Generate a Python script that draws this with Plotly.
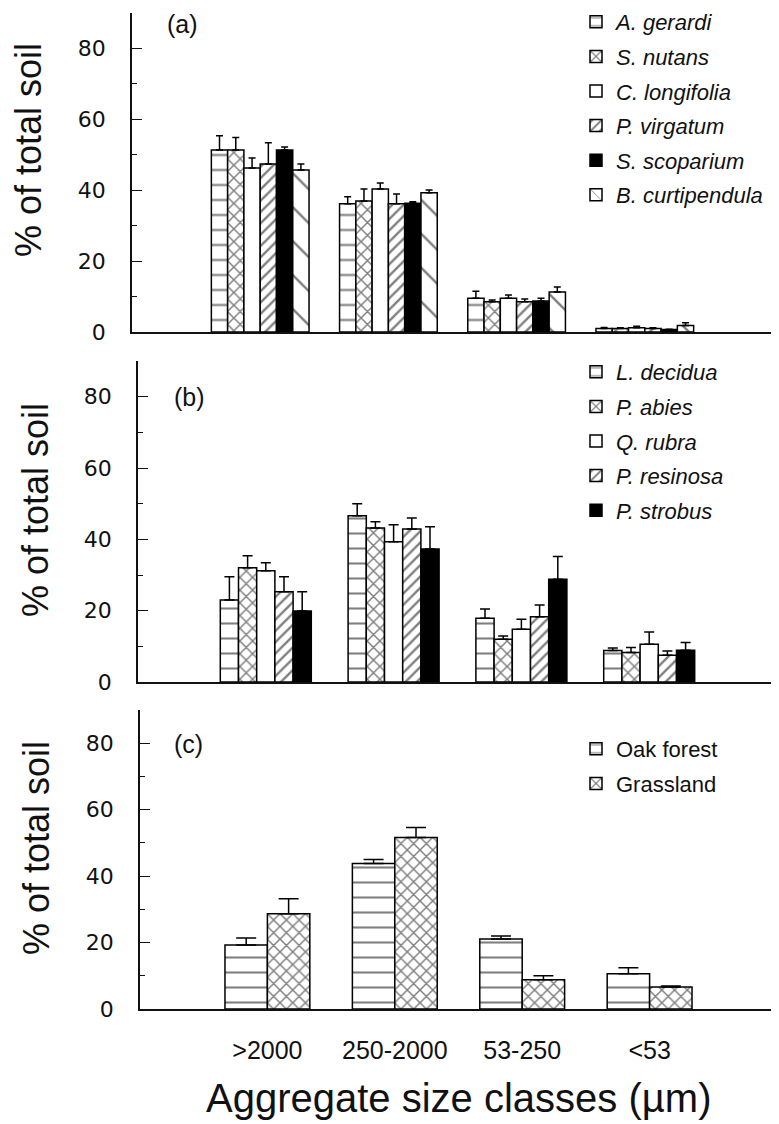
import plotly.graph_objects as go

# The page body has an 8px margin, so the figure is drawn at (8, 8) in the window.
OFF = 8
W, H = 779 - OFF, 1124 - OFF

categories = [">2000", "250-2000", "53-250", "<53"]

# Panel (a): grass species
grass_names = ["A. gerardi", "S. nutans", "C. longifolia", "P. virgatum", "S. scoparium", "B. curtipendula"]
a_gerardi = [51.3, 36.1, 9.5, 1.0]
a_gerardi_se = [4.0, 2.0, 2.0, 0.3]
s_nutans = [51.3, 36.9, 8.5, 1.0]
s_nutans_se = [3.5, 3.4, 0.5, 0.2]
c_longifolia = [46.2, 40.3, 9.5, 1.2]
c_longifolia_se = [2.8, 1.7, 0.9, 0.4]
p_virgatum = [47.3, 36.1, 8.5, 1.0]
p_virgatum_se = [6.0, 2.8, 0.8, 0.2]
s_scoparium = [51.3, 36.3, 8.7, 0.7]
s_scoparium_se = [0.8, 0.4, 0.8, 0.1]
b_curtipendula = [45.6, 39.2, 11.3, 1.8]
b_curtipendula_se = [1.7, 0.8, 1.4, 0.8]

# Panel (b): tree species
tree_names = ["L. decidua", "P. abies", "Q. rubra", "P. resinosa", "P. strobus"]
l_decidua = [23.0, 46.6, 17.9, 8.8]
l_decidua_se = [6.5, 3.4, 2.6, 0.7]
p_abies = [32.0, 43.2, 12.0, 8.3]
p_abies_se = [3.4, 1.7, 0.9, 1.4]
q_rubra = [31.2, 39.3, 14.8, 10.6]
q_rubra_se = [2.2, 4.8, 2.8, 3.4]
p_resinosa = [25.3, 42.9, 18.3, 7.5]
p_resinosa_se = [4.2, 3.1, 3.3, 1.2]
p_strobus = [19.9, 37.3, 28.8, 8.9]
p_strobus_se = [5.4, 6.2, 6.4, 2.2]

# Panel (c): land use
site_names = ["Oak forest", "Grassland"]
oak_forest = [19.3, 43.8, 21.1, 10.6]
oak_forest_se = [2.1, 1.2, 0.9, 1.8]
grassland = [28.7, 51.6, 8.8, 6.6]
grassland_se = [4.5, 3.0, 1.2, 0.3]

y_ticks = [0, 20, 40, 60, 80]
y_minor = [10, 30, 50, 70, 90]

# styles
STY = {
    "hlines": dict(color="white", pattern=dict(shape="-", size=15, solidity=0.14, fgcolor="black", bgcolor="white")),
    "cross": dict(color="white", pattern=dict(shape="x", size=9, solidity=0.3, fgcolor="black", bgcolor="white")),
    "open": dict(color="white"),
    "diag": dict(color="white", pattern=dict(shape="/", size=8, solidity=0.3, fgcolor="black", bgcolor="white")),
    "solid": dict(color="black"),
    "wide": dict(color="white", pattern=dict(shape="\\", size=24, solidity=0.1, fgcolor="black", bgcolor="white")),
}


def px_x(p):
    return (p - OFF) / W


def px_y(p):
    return 1 - (p - OFF) / H


fig = go.Figure()

panels = [
    dict(ax="", names=grass_names,
         vals=[a_gerardi, s_nutans, c_longifolia, p_virgatum, s_scoparium, b_curtipendula],
         errs=[a_gerardi_se, s_nutans_se, c_longifolia_se, p_virgatum_se, s_scoparium_se, b_curtipendula_se],
         styles=["hlines", "cross", "open", "diag", "solid", "wide"],
         bw=0.127, cap=3.5, legend="legend", italic=True, legtop=1,
         xdom=(132, 773), ydom=(12.5, 332)),
    dict(ax="2", names=tree_names,
         vals=[l_decidua, p_abies, q_rubra, p_resinosa, p_strobus],
         errs=[l_decidua_se, p_abies_se, q_rubra_se, p_resinosa_se, p_strobus_se],
         styles=["hlines", "cross", "open", "diag", "solid"],
         bw=0.1424, cap=5, legend="legend2", italic=True, legtop=351,
         xdom=(138, 777), ydom=(361, 682)),
    dict(ax="3", names=site_names,
         vals=[oak_forest, grassland],
         errs=[oak_forest_se, grassland_se],
         styles=["hlines", "cross"],
         bw=0.333, cap=10, legend="legend3", italic=False, legtop=728,
         xdom=(140, 777), ydom=(710, 1009)),
]

for p in panels:
    n = len(p["names"])
    for i, (nm, v, e, s) in enumerate(zip(p["names"], p["vals"], p["errs"], p["styles"])):
        st = STY[s]
        marker = dict(color=st["color"], line=dict(color="black", width=1.5))
        if "pattern" in st:
            marker["pattern"] = st["pattern"]
        fig.add_trace(go.Bar(
            x=categories, y=v, name=nm,
            width=p["bw"], offset=-n * p["bw"] / 2 + i * p["bw"],
            marker=marker,
            error_y=dict(type="data", array=e, arrayminus=[0] * len(e), symmetric=False,
                         color="black", thickness=1.5, width=p["cap"]),
            xaxis="x" + p["ax"], yaxis="y" + p["ax"],
            legend=p["legend"], legendgroup=p["legend"] + nm,
        ))

layout = dict(
    width=W, height=H, margin=dict(l=0, r=0, t=0, b=0, autoexpand=False),
    paper_bgcolor="white", plot_bgcolor="white",
    font=dict(family="Liberation Sans, Arial, sans-serif", color="#111", size=20),
    barmode="group", showlegend=True,
)

for idx, p in enumerate(panels):
    ax = p["ax"]
    last = idx == len(panels) - 1
    layout["xaxis" + ax] = dict(
        domain=[px_x(p["xdom"][0]), min(1.0, px_x(p["xdom"][1]))],
        anchor="y" + ax, type="category", range=[-1, 4],
        showline=True, linecolor="#111", linewidth=1.6, ticks="",
        showgrid=False, zeroline=False,
        showticklabels=last, tickfont=dict(size=25, family="Liberation Sans, Arial, sans-serif"),
        ticklabelstandoff=18,
    )
    layout["yaxis" + ax] = dict(
        domain=[px_y(p["ydom"][1]), px_y(p["ydom"][0])],
        anchor="x" + ax, range=[0, 90],
        tickvals=y_ticks, ticks="inside", ticklen=10, tickwidth=1.4, tickcolor="#111",
        minor=dict(tickvals=y_minor, ticks="inside", ticklen=5, tickwidth=1.2, tickcolor="#111"),
        showline=True, linecolor="#111", linewidth=1.6,
        showgrid=False, zeroline=False,
        tickfont=dict(size=22, family="DejaVu Sans, sans-serif"),
        ticklabelstandoff=20,
    )
    layout[p["legend"]] = dict(
        x=px_x(576), y=px_y(p["legtop"]),
        xanchor="left", yanchor="top", bgcolor="rgba(0,0,0,0)",
        font=dict(size=22, style="italic" if p["italic"] else "normal",
                  family="Liberation Sans, Arial, sans-serif"),
        tracegroupgap=3, itemclick=False,
    )

fig.update_layout(**layout)

# y-axis titles and panel letters
ytitle_centers = [150, 510, 848]
ytitle_x = [28, 36, 36]
letters = ["(a)", "(b)", "(c)"]
letter_y = [24, 397, 744]
letter_x = [165, 172, 172]
for i in range(3):
    fig.add_annotation(text="% of total soil", textangle=-90, showarrow=False,
                       xref="paper", yref="paper", x=px_x(ytitle_x[i]), y=px_y(ytitle_centers[i]),
                       xanchor="center", yanchor="middle",
                       font=dict(size=36, family="Liberation Sans, Arial, sans-serif", color="#111"))
    fig.add_annotation(text=letters[i], showarrow=False,
                       xref="paper", yref="paper", x=px_x(letter_x[i]), y=px_y(letter_y[i]),
                       xanchor="left", yanchor="middle",
                       font=dict(size=25, family="Liberation Sans, Arial, sans-serif", color="#111"))

fig.add_annotation(text="Aggregate size classes (\u00b5m)", showarrow=False,
                   xref="paper", yref="paper", x=px_x(458), y=px_y(1098),
                   xanchor="center", yanchor="middle",
                   font=dict(size=40, family="Liberation Sans, Arial, sans-serif", color="#111"))

fig.write_html("out.html")
